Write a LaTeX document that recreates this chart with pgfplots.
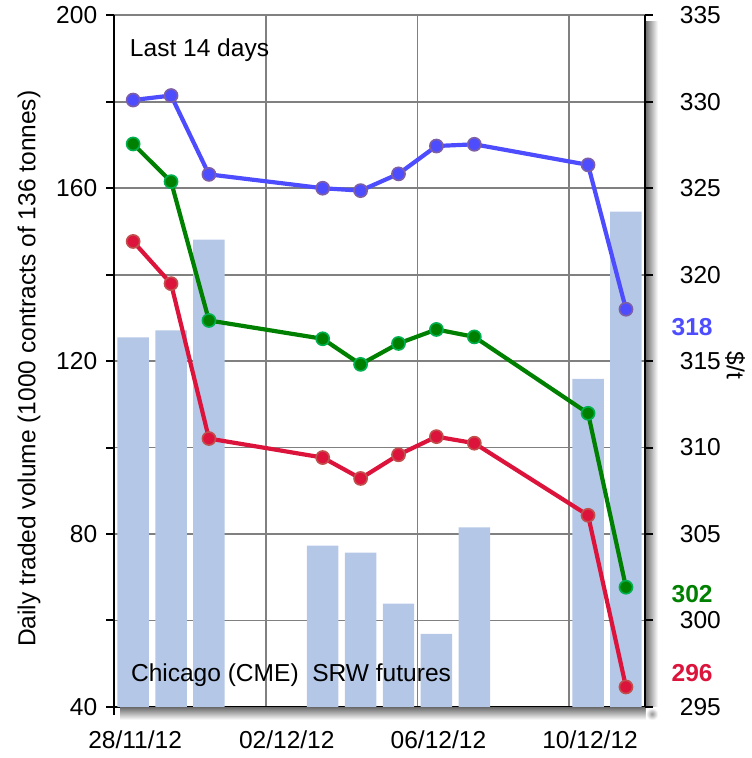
\documentclass[border=0pt]{standalone}
\usepackage{fontspec}
\setmainfont{Liberation Sans}
\usepackage{pgfplots}
\pgfplotsset{compat=1.18}
\usetikzlibrary{calc}
\definecolor{barblue}{RGB}{180,199,231}
\definecolor{lnblue}{RGB}{77,77,255}
\definecolor{mkblue}{RGB}{125,95,165}
\definecolor{lngreen}{RGB}{0,128,0}
\definecolor{mkgreen}{RGB}{0,176,80}
\definecolor{lnred}{RGB}{220,20,60}
\definecolor{mkred}{RGB}{192,80,77}
\definecolor{gridgray}{RGB}{128,128,128}

% volume (left axis), x = day index + 0.5, day 0 = 28/11/12
\pgfplotstableread{
x vol
0.5 125.5
1.5 127.1
2.5 148.1
5.5 77.3
6.5 75.7
7.5 63.9
8.5 56.9
9.5 81.5
12.5 115.9
13.5 154.6
}\volume

\pgfplotstableread{
x blue green red
0.5 330.10 327.56 321.92
1.5 330.36 325.38 319.48
2.5 325.80 317.35 310.52
5.5 325.00 316.29 309.42
6.5 324.86 314.81 308.21
7.5 325.83 316.02 309.58
8.5 327.44 316.83 310.63
9.5 327.54 316.40 310.25
12.5 326.35 311.98 306.08
13.5 318.00 301.92 296.15
}\prices

\newcommand{\fs}{\fontsize{12.3pt}{14pt}\selectfont}

\begin{document}
\begin{tikzpicture}[font=\fs]
\pgfplotsset{
  every axis/.append style={font=\fs, scale only axis, width=266.1pt, height=346.7pt,
    xmin=0, xmax=14, tick align=outside, major tick length=4pt,
    axis line style={-, line width=1.2pt, black},
    tick style={line width=1pt, black},
    /pgf/number format/assume math mode=true},
}
\begin{axis}[name=ax,
  ymin=40, ymax=200,
  axis x line*=bottom, axis y line*=left,
  ytick={40,60,...,200}, yticklabels={40,,80,,120,,160,,200},
  yticklabel style={xshift=-1pt},
  xtick={0,4,8,12}, xticklabels={28/11/12,02/12/12,06/12/12,10/12/12},
  xticklabel style={xshift=10.5pt, yshift=-4.5pt},
  grid=major, grid style={gridgray, line width=0.9pt},
]
\addplot[ybar, bar width=0.83, bar shift=0pt, fill=barblue, draw=none] table[x=x, y=vol] {\volume};
\node[anchor=base west, inner sep=0pt] at (rel axis cs:0.029,0.941) {Last 14 days};
\node[anchor=base west, inner sep=0pt] at (rel axis cs:0.031,0.036) {Chicago (CME)\ \ SRW futures};
\end{axis}
% soft shadow on the right and bottom
\shade[left color=black!55, right color=white] ([xshift=0.5pt,yshift=-3pt]ax.north east) rectangle ([xshift=6.5pt,yshift=-0.5pt]ax.south east);
\shade[top color=black!55, bottom color=white] ([xshift=3pt,yshift=-0.5pt]ax.south west) rectangle ([xshift=0.5pt,yshift=-6.5pt]ax.south east);
\shade[inner color=black!40, outer color=white] ([xshift=0.5pt,yshift=-0.5pt]ax.south east) rectangle ([xshift=6.5pt,yshift=-6.5pt]ax.south east);
\node[rotate=90, anchor=center] at ($(ax.south west)!0.489!(ax.north west)+(-42.75pt,0)$) {Daily traded volume (1000 contracts of 136 tonnes)};

\begin{axis}[
  ymin=295, ymax=335, clip mode=individual,
  axis x line=none, axis y line*=right,
  ytick={295,300,...,335},
  yticklabel style={xshift=10pt},
  every axis plot/.append style={line width=2.1pt, mark=*, mark size=3.3pt},
]
\addplot[lnblue, mark options={fill=lnblue, draw=mkblue, line width=0.8pt}] table[x=x, y=blue] {\prices};
\addplot[lngreen, mark options={fill=lngreen, draw=mkgreen, line width=0.8pt}] table[x=x, y=green] {\prices};
\addplot[lnred, mark options={fill=lnred, draw=mkred, line width=0.8pt}] table[x=x, y=red] {\prices};
\node[anchor=base, font=\fs\bfseries, text=lnblue] at (rel axis cs:1.089,0.5375) {318};
\node[anchor=base, font=\fs\bfseries, text=lngreen] at (rel axis cs:1.089,0.1514) {302};
\node[anchor=base, font=\fs\bfseries, text=lnred] at (rel axis cs:1.089,0.036) {296};
\node[rotate=-90, anchor=center] at (rel axis cs:1.1697,0.494) {\$/t};
\end{axis}
% frame with the reference's proportions
\path ([xshift=-57.25pt,yshift=-25.65pt]ax.south west) rectangle ++(376pt,379pt);
\end{tikzpicture}
\end{document}
